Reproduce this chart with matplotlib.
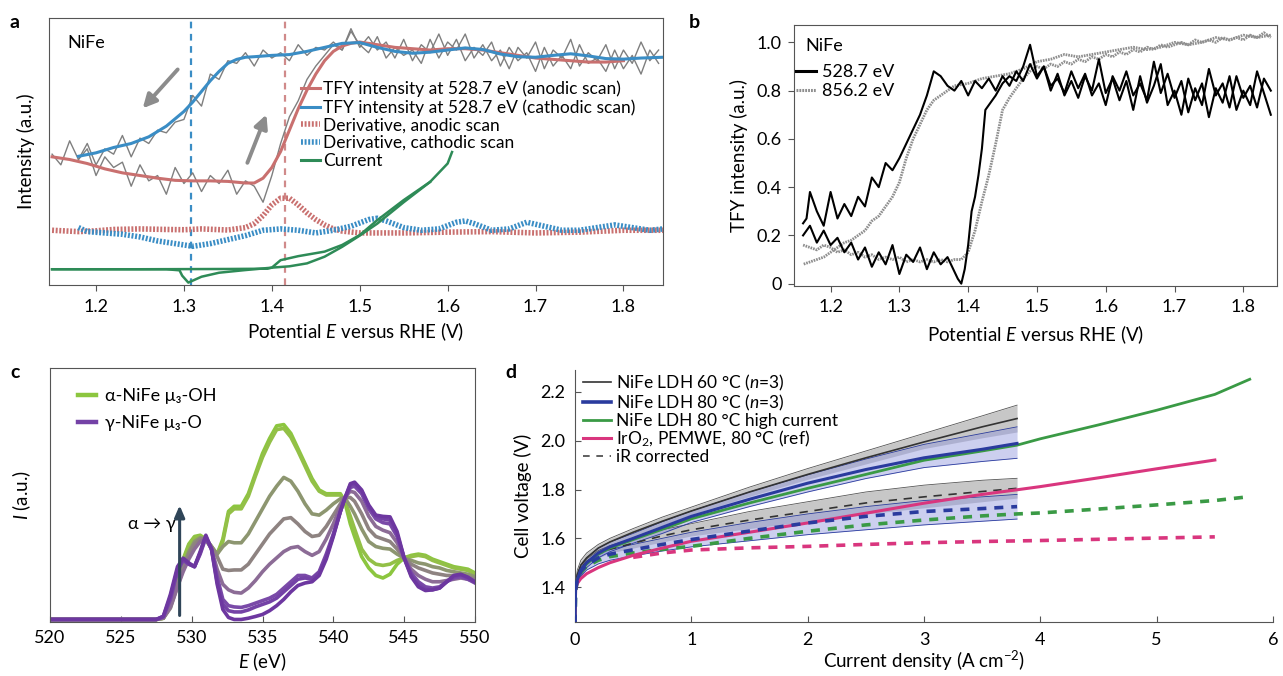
import matplotlib
matplotlib.use("Agg")
import matplotlib.pyplot as plt
from matplotlib.lines import Line2D

plt.rcParams['font.family'] = ['Lato', 'DejaVu Sans']
plt.rcParams['mathtext.fontset'] = 'custom'
plt.rcParams['mathtext.rm'] = 'Lato'
plt.rcParams['mathtext.it'] = 'Lato:italic'
plt.rcParams['mathtext.bf'] = 'Lato:bold'

# ---------------- Panel a data ----------------
a_red_x = [1.15, 1.17, 1.19, 1.21, 1.23, 1.25, 1.27, 1.29, 1.31, 1.33, 1.35, 1.37, 1.38, 1.39, 1.40, 1.41,
           1.42, 1.43, 1.44, 1.45, 1.46, 1.47, 1.48, 1.49, 1.50, 1.52, 1.54, 1.56, 1.58, 1.60, 1.62, 1.64,
           1.66, 1.68, 1.70, 1.72, 1.74, 1.76, 1.78, 1.80]
a_red_y = [48, 47, 45.5, 43.5, 42, 41, 40, 39.2, 39, 39, 38.8, 38.2, 38.2, 40, 44, 50, 58, 66, 73, 79, 84,
           87.5, 89.5, 90.5, 91, 90, 89, 88.5, 88, 88.5, 88.5, 88, 87, 86, 85, 84.5, 84, 83.5, 83.5, 84]
a_blue_x = [1.18, 1.20, 1.22, 1.24, 1.26, 1.28, 1.30, 1.31, 1.32, 1.33, 1.34, 1.35, 1.36, 1.37, 1.38, 1.40,
            1.42, 1.44, 1.46, 1.48, 1.50, 1.52, 1.54, 1.56, 1.58, 1.60, 1.62, 1.64, 1.66, 1.68, 1.70, 1.72,
            1.74, 1.76, 1.78, 1.80, 1.82, 1.845]
a_blue_y = [48.2, 49.5, 51.5, 53, 55.5, 59.5, 65, 68.5, 72.5, 76.5, 80, 83, 84.5, 85.3, 85.5, 86, 86.3,
            87.5, 89, 90.5, 90.8, 89, 87.5, 86.8, 87.2, 88, 88.8, 88.2, 86.5, 85.5, 85.3, 86, 86.6, 85.8,
            84.8, 84.6, 85, 85.3]
a_raw_an_x = [1.15, 1.16, 1.17, 1.18, 1.19, 1.20, 1.21, 1.22, 1.23, 1.24, 1.25, 1.26, 1.27, 1.28, 1.29,
              1.30, 1.31, 1.32, 1.33, 1.34, 1.35, 1.36, 1.37, 1.38, 1.39, 1.40, 1.41, 1.42, 1.43, 1.44,
              1.45, 1.46, 1.47, 1.48, 1.49, 1.50, 1.51, 1.52, 1.53, 1.54, 1.55, 1.56, 1.57, 1.58, 1.59,
              1.60, 1.61, 1.62, 1.63, 1.64, 1.65, 1.66, 1.67, 1.68, 1.69, 1.70, 1.71, 1.72, 1.73, 1.74,
              1.75, 1.76, 1.77, 1.78, 1.79, 1.80, 1.81, 1.82, 1.83, 1.84]
a_raw_an_y = [49, 45, 54, 47, 51, 41, 48, 44, 46, 37,
              45, 39, 41, 34, 44, 38, 42, 35, 41, 38,
              43, 34, 39, 37, 31, 41, 53, 63, 69, 77,
              82, 86, 90, 88, 96, 89, 93, 88, 91, 85,
              92, 84, 90, 87, 94, 86, 92, 84, 89, 86,
              91, 82, 89, 84, 87, 80, 89, 82, 86, 81,
              90, 83, 85, 80, 88, 81, 86, 79, 88, 83]
a_raw_ca_x = [1.18, 1.19, 1.20, 1.21, 1.22, 1.23, 1.24, 1.25, 1.26, 1.27, 1.28, 1.29, 1.30, 1.31, 1.32,
              1.33, 1.34, 1.35, 1.36, 1.37, 1.38, 1.39, 1.40, 1.41, 1.42, 1.43, 1.44, 1.45, 1.46, 1.47,
              1.48, 1.49, 1.50, 1.51, 1.52, 1.53, 1.54, 1.55, 1.56, 1.57, 1.58, 1.59, 1.60, 1.61, 1.62,
              1.63, 1.64, 1.65, 1.66, 1.67, 1.68, 1.69, 1.70, 1.71, 1.72, 1.73, 1.74, 1.75, 1.76, 1.77,
              1.78, 1.79, 1.80, 1.81, 1.82, 1.83, 1.84]
a_raw_ca_y = [47, 53, 45, 51, 49, 56, 48, 55, 53, 58,
              57, 61, 62, 71, 67, 79, 77, 84, 83, 87,
              82, 88, 85, 87, 84, 90, 86, 89, 88, 91,
              88, 95, 90, 87, 93, 85, 89, 86, 88, 83,
              92, 85, 91, 88, 94, 85, 90, 84, 88, 81,
              89, 85, 91, 81, 88, 85, 92, 82, 87, 84,
              90, 81, 88, 83, 91, 84, 88]
a_der_an_x = [1.15, 1.18, 1.20, 1.22, 1.25, 1.28, 1.30, 1.32, 1.35, 1.37, 1.38, 1.39, 1.40, 1.41, 1.42,
              1.43, 1.44, 1.45, 1.46, 1.47, 1.48, 1.50, 1.55, 1.60, 1.65, 1.70, 1.75, 1.80, 1.845]
a_der_an_y = [20.5, 20, 20.3, 20.8, 21, 20.8, 20.7, 21, 20.6, 21.5, 23, 26, 30, 32.5, 32.5, 30, 27, 24.5,
              22.5, 21, 20.2, 19.5, 19.5, 19.8, 20, 19.5, 19.8, 20.5, 20.5]
a_der_ca_x = [1.18, 1.19, 1.21, 1.23, 1.25, 1.27, 1.29, 1.31, 1.33, 1.35, 1.37, 1.39, 1.41, 1.43, 1.45,
              1.47, 1.49, 1.51, 1.52, 1.53, 1.55, 1.57, 1.59, 1.61, 1.62, 1.63, 1.65, 1.67, 1.69, 1.71,
              1.73, 1.75, 1.77, 1.79, 1.81, 1.83, 1.845]
a_der_ca_y = [21.5, 20, 19.5, 19, 18, 16.5, 15.5, 14.5, 15.5, 17, 18.5, 20.5, 21, 20.5, 19.5, 20.5, 22,
              24.5, 25, 24, 21.5, 20.5, 21, 23.5, 24, 23, 20.5, 21, 23.5, 22, 20.5, 20.5, 21.5, 22.5, 21.5,
              20.5, 21]
a_cur_an_x = [1.15, 1.25, 1.35, 1.395, 1.40, 1.41, 1.43, 1.46, 1.48, 1.50, 1.52, 1.55, 1.58, 1.60, 1.605]
a_cur_an_y = [5.9, 5.9, 6.0, 6.1, 6.5, 9.3, 10.8, 12.5, 15, 18.7, 24.3, 31.8, 38.6, 45.5, 49.8]
a_cur_ca_x = [1.58, 1.55, 1.52, 1.50, 1.48, 1.46, 1.44, 1.42, 1.40, 1.37, 1.34, 1.32, 1.305, 1.298,
              1.295, 1.28, 1.15]
a_cur_ca_y = [38.6, 31, 23, 18.5, 14.3, 10.6, 8.1, 7, 6.5, 5.6, 4.6, 3.1, 0.9, 3.5, 5.5, 5.9, 5.9]
a_vlines = [1.308, 1.415]
a_labels = ['TFY intensity at 528.7 eV (anodic scan)', 'TFY intensity at 528.7 eV (cathodic scan)',
            'Derivative, anodic scan', 'Derivative, cathodic scan', 'Current']
a_xticks = [1.2, 1.3, 1.4, 1.5, 1.6, 1.7, 1.8]

# ---------------- Panel b data ----------------
b_k_an_x = [1.16, 1.17, 1.18, 1.19, 1.20, 1.21, 1.22, 1.23, 1.24, 1.25, 1.26, 1.27, 1.28, 1.29, 1.30,
            1.31, 1.32, 1.33, 1.34, 1.35, 1.36, 1.37, 1.38, 1.385, 1.39, 1.395, 1.40, 1.405, 1.41, 1.415,
            1.42, 1.425, 1.43, 1.44, 1.45, 1.46, 1.47, 1.48, 1.49, 1.50, 1.51, 1.52, 1.53, 1.54, 1.55,
            1.56, 1.57, 1.58, 1.59, 1.60, 1.61, 1.62, 1.63, 1.64, 1.65, 1.66, 1.67, 1.68, 1.69, 1.70,
            1.71, 1.72, 1.73, 1.74, 1.75, 1.76, 1.77, 1.78, 1.79, 1.80, 1.81, 1.82, 1.83, 1.84]
b_k_an_y = [0.20, 0.24, 0.17, 0.22, 0.16, 0.19, 0.13, 0.17, 0.10, 0.15, 0.07, 0.13, 0.08, 0.16, 0.04,
            0.12, 0.09, 0.15, 0.06, 0.13, 0.08, 0.11, 0.05, 0.02, 0.00, 0.06, 0.16, 0.30, 0.36, 0.45,
            0.56, 0.72, 0.74, 0.78, 0.83, 0.86, 0.84, 0.90, 0.99, 0.86, 0.90, 0.80, 0.87, 0.78, 0.84,
            0.77, 0.86, 0.80, 0.93, 0.79, 0.85, 0.76, 0.84, 0.72, 0.86, 0.75, 0.82, 0.91, 0.74, 0.80,
            0.70, 0.85, 0.76, 0.83, 0.69, 0.81, 0.75, 0.86, 0.72, 0.80, 0.74, 0.88, 0.79, 0.70]
b_k_ca_x = [1.84, 1.83, 1.82, 1.81, 1.80, 1.79, 1.78, 1.77, 1.76, 1.75, 1.74, 1.73, 1.72, 1.71, 1.70,
            1.69, 1.68, 1.67, 1.66, 1.65, 1.64, 1.63, 1.62, 1.61, 1.60, 1.59, 1.58, 1.57, 1.56, 1.55,
            1.54, 1.53, 1.52, 1.51, 1.50, 1.49, 1.48, 1.47, 1.46, 1.45, 1.44, 1.43, 1.42, 1.41, 1.40,
            1.39, 1.38, 1.37, 1.36, 1.35, 1.34, 1.33, 1.32, 1.31, 1.30, 1.29, 1.28, 1.27, 1.26, 1.25,
            1.24, 1.23, 1.22, 1.21, 1.20, 1.19, 1.18, 1.17, 1.165, 1.16]
b_k_ca_y = [0.80, 0.85, 0.73, 0.82, 0.77, 0.86, 0.73, 0.83, 0.78, 0.89, 0.74, 0.81, 0.71, 0.84, 0.77,
            0.87, 0.79, 0.92, 0.76, 0.83, 0.78, 0.88, 0.80, 0.86, 0.74, 0.83, 0.78, 0.87, 0.81, 0.88,
            0.79, 0.85, 0.82, 0.90, 0.85, 0.91, 0.84, 0.88, 0.82, 0.86, 0.80, 0.85, 0.81, 0.84, 0.78,
            0.84, 0.80, 0.82, 0.86, 0.88, 0.78, 0.70, 0.64, 0.58, 0.52, 0.47, 0.50, 0.40, 0.44, 0.32,
            0.36, 0.28, 0.33, 0.27, 0.38, 0.24, 0.30, 0.38, 0.27, 0.25]
b_g_an_x = [1.16, 1.17, 1.18, 1.19, 1.20, 1.21, 1.22, 1.23, 1.24, 1.25, 1.26, 1.27, 1.28, 1.29, 1.30,
            1.31, 1.32, 1.33, 1.34, 1.35, 1.36, 1.37, 1.38, 1.39, 1.40, 1.41, 1.42, 1.43, 1.44, 1.45,
            1.46, 1.47, 1.48, 1.49, 1.50, 1.51, 1.52, 1.53, 1.54, 1.55, 1.56, 1.57, 1.58, 1.59, 1.60,
            1.61, 1.62, 1.63, 1.64, 1.65, 1.66, 1.67, 1.68, 1.69, 1.70, 1.71, 1.72, 1.73, 1.74, 1.75,
            1.76, 1.77, 1.78, 1.79, 1.80, 1.81, 1.82, 1.83, 1.84]
b_g_an_y = [0.16, 0.15, 0.14, 0.16, 0.15, 0.13, 0.14, 0.12, 0.13, 0.11, 0.12, 0.10, 0.11, 0.10, 0.11,
            0.09, 0.10, 0.09, 0.10, 0.09, 0.10, 0.09, 0.10, 0.10, 0.13, 0.22, 0.34, 0.45, 0.58, 0.72,
            0.77, 0.81, 0.85, 0.88, 0.90, 0.89, 0.91, 0.90, 0.92, 0.91, 0.93, 0.92, 0.94, 0.93, 0.95,
            0.94, 0.96, 0.95, 0.97, 0.96, 0.98, 0.97, 0.99, 0.98, 0.99, 1.00, 0.99, 1.01, 1.00, 1.01,
            1.00, 1.02, 1.01, 1.02, 1.01, 1.03, 1.02, 1.04, 1.02]
b_g_ca_x = [1.84, 1.82, 1.80, 1.78, 1.76, 1.74, 1.72, 1.70, 1.68, 1.66, 1.64, 1.62, 1.60, 1.58, 1.56,
            1.54, 1.52, 1.50, 1.48, 1.46, 1.44, 1.42, 1.40, 1.38, 1.37, 1.36, 1.35, 1.34, 1.33, 1.32,
            1.31, 1.30, 1.29, 1.28, 1.27, 1.26, 1.25, 1.24, 1.23, 1.22, 1.21, 1.20, 1.19, 1.18, 1.17, 1.16]
b_g_ca_y = [1.03, 1.02, 1.03, 1.01, 1.02, 1.00, 0.99, 1.00, 0.98, 0.97, 0.98, 0.97, 0.96, 0.95, 0.94,
            0.95, 0.93, 0.92, 0.89, 0.87, 0.86, 0.85, 0.83, 0.82, 0.80, 0.78, 0.76, 0.72, 0.66, 0.60,
            0.52, 0.42, 0.36, 0.32, 0.28, 0.26, 0.22, 0.20, 0.18, 0.17, 0.15, 0.13, 0.11, 0.10, 0.09, 0.08]
b_labels = ['528.7 eV', '856.2 eV']
b_xticks = [1.2, 1.3, 1.4, 1.5, 1.6, 1.7, 1.8]
b_yticks = [0, 0.2, 0.4, 0.6, 0.8, 1.0]
b_yticklabels = ['0', '0.2', '0.4', '0.6', '0.8', '1.0']

# ---------------- Panel c data ----------------
c_E = [520, 527.5, 528, 528.5, 529, 529.4, 529.8, 530.2, 530.6, 531.0, 531.4, 531.8, 532.2, 532.6, 533.0,
       533.5, 534.0, 534.5, 535.0, 535.5, 536.0, 536.5, 537.0, 537.5, 538.0, 538.5, 539.0, 539.5, 540.0,
       540.5, 540.8, 541.2, 541.5, 542.0, 542.5, 543.0, 543.5, 544.0, 544.5, 545.0, 545.5, 546.0, 546.5,
       547.0, 547.5, 548.0, 548.5, 549.0, 549.5, 550.0]
c_green1 = [0, 0, 0.5, 7, 17, 24, 30, 33, 33.5, 32, 29, 26, 32, 43, 45, 45, 50, 58, 66, 72, 77, 77.5, 74,
            68, 62, 56, 51.5, 50, 50, 50, 47, 38, 33, 25, 20.5, 17.5, 16.5, 18, 22, 24.5, 25.5, 26, 25.5,
            24, 23, 22, 21, 20.5, 20, 18.5]
c_green2 = [0, 0, 0.5, 6, 16, 23, 29.5, 32.5, 33, 31.5, 28.5, 26, 31, 42, 44, 44, 49, 57, 64.5, 70.5,
            75.5, 76, 72.5, 67, 61, 55, 51, 49.5, 49.5, 49.5, 47.5, 41, 36, 28, 24, 22, 21.5, 22, 23.5,
            24.5, 25, 25.5, 25, 23.5, 22.5, 21.5, 20.5, 20, 19.5, 18]
c_olive = [0, 0, 0.5, 5, 14, 21, 27, 31, 32.5, 32, 29, 26, 29, 31, 30.5, 30.5, 34, 39, 44, 49, 53, 56.5,
           55, 51, 46, 42, 41.5, 43.5, 46, 48, 48.5, 45, 42, 36, 31, 29, 28.3, 28, 26, 24.4, 23.5, 22.5,
           22, 21, 20.5, 19.5, 19, 18.5, 18, 17]
c_gray = [0, 0, 0.5, 4.5, 13, 20, 26, 30, 32, 32, 29, 25, 20, 19.5, 19.7, 19.7, 22, 26, 30, 34, 37, 40,
          40.5, 38, 35, 33, 33.5, 37, 41.5, 46, 48.5, 48.5, 47, 42, 36, 33, 32, 31, 28, 24.4, 22, 20.5,
          19.5, 18.5, 18, 17.5, 17.5, 17.5, 17, 16]
c_mauve = [0, 0, 0.7, 5, 13, 19, 24, 28, 31, 32, 28, 20, 14, 11.8, 10.8, 10.5, 12.5, 15.5, 19, 22, 24.5,
           27, 28.5, 29, 27, 25.5, 27, 32, 38, 45, 48.5, 51, 50.5, 47, 41, 37, 35.5, 34.5, 30.5, 24.4,
           20, 17.5, 16, 15, 15, 15.5, 16, 16.5, 16, 15]
c_purple1 = [0, 0, 1, 8, 19, 23.5, 22, 21, 26, 32.5, 28, 17, 8, 5.5, 5, 4.8, 5.5, 6.5, 7.5, 8.5, 10,
             12.5, 15, 17.5, 17.5, 16.5, 19, 26, 34, 43, 48, 52.5, 53, 50, 44, 40, 38.5, 38, 33, 24.4,
             18.5, 15, 13, 12.5, 13, 15, 16.5, 17, 16, 14.5]
c_purple2 = [0, 0, 1.2, 9, 20, 24, 22, 21, 26.5, 33, 28, 15, 6, 3.5, 3, 3, 3.8, 5, 6, 7, 8.5, 11, 13.5,
             16, 16.5, 16, 18.5, 25, 33.5, 43, 48, 53.5, 54, 51, 45, 41, 40, 39.5, 34, 24.4, 17.5, 14,
             12, 11.8, 12.5, 15, 17, 17.8, 16.5, 14.8]
c_purple3 = [0, 0, 1.3, 10, 21, 24.4, 22.5, 21, 27, 33.5, 28, 14, 4, 0.8, 0, 0, 0.5, 1.2, 2, 3.5, 5.5,
             8, 11, 13.5, 14.5, 15, 17.5, 24, 33, 43, 48, 54, 54.6, 51.5, 45.5, 41.5, 41, 40.8, 35, 24.4,
             17, 13, 11.5, 11.8, 12.5, 15, 17.5, 18, 16.8, 15]
c_labels = ['α-NiFe μ₃-OH', 'γ-NiFe μ₃-O']
c_xticks = [520, 525, 530, 535, 540, 545, 550]

# ---------------- Panel d data ----------------
d_j = [0, 0.005, 0.02, 0.05, 0.1, 0.2, 0.3, 0.5, 0.75, 1.0, 1.5, 2.0, 2.5, 3.0, 3.5, 3.8]
d_60 = [1.25, 1.40, 1.45, 1.49, 1.52, 1.56, 1.585, 1.625, 1.67, 1.712, 1.79, 1.862, 1.93, 1.995, 2.057, 2.091]
d_60_hi = [1.25, 1.42, 1.47, 1.51, 1.54, 1.575, 1.60, 1.64, 1.687, 1.728, 1.81, 1.886, 1.958, 2.03, 2.102, 2.146]
d_60_lo = [1.25, 1.38, 1.43, 1.47, 1.50, 1.545, 1.57, 1.61, 1.653, 1.698, 1.772, 1.842, 1.905, 1.968, 2.012, 2.036]
d_80 = [1.25, 1.39, 1.43, 1.47, 1.50, 1.54, 1.565, 1.60, 1.645, 1.69, 1.76, 1.826, 1.882, 1.93, 1.965, 1.989]
d_80_hi = [1.25, 1.41, 1.45, 1.49, 1.52, 1.56, 1.585, 1.62, 1.668, 1.712, 1.79, 1.86, 1.925, 1.985, 2.03, 2.057]
d_80_lo = [1.25, 1.37, 1.41, 1.45, 1.48, 1.52, 1.545, 1.58, 1.62, 1.665, 1.73, 1.79, 1.845, 1.89, 1.915, 1.928]
d_60_ir = [1.25, 1.40, 1.44, 1.48, 1.505, 1.535, 1.555, 1.58, 1.61, 1.635, 1.675, 1.71, 1.745, 1.77, 1.792, 1.805]
d_60_ir_hi = [1.25, 1.41, 1.455, 1.49, 1.515, 1.55, 1.57, 1.60, 1.635, 1.66, 1.71, 1.75, 1.79, 1.818, 1.838, 1.846]
d_60_ir_lo = [1.25, 1.38, 1.425, 1.465, 1.49, 1.52, 1.54, 1.56, 1.585, 1.61, 1.64, 1.67, 1.70, 1.725, 1.75, 1.765]
d_80_ir = [1.25, 1.39, 1.43, 1.465, 1.49, 1.52, 1.535, 1.553, 1.575, 1.595, 1.63, 1.663, 1.69, 1.71, 1.722, 1.73]
d_80_ir_hi = [1.25, 1.40, 1.445, 1.48, 1.505, 1.535, 1.555, 1.575, 1.60, 1.625, 1.665, 1.70, 1.73, 1.755, 1.77, 1.78]
d_80_ir_lo = [1.25, 1.37, 1.41, 1.445, 1.47, 1.495, 1.51, 1.528, 1.548, 1.565, 1.59, 1.615, 1.635, 1.655, 1.67, 1.679]
d_hc_j = [0, 0.005, 0.02, 0.05, 0.1, 0.2, 0.3, 0.5, 0.75, 1.0, 1.5, 2.0, 2.5, 3.0, 3.5, 3.8, 4.0, 4.5, 5.0, 5.5, 5.8]
d_hc = [1.25, 1.39, 1.43, 1.465, 1.495, 1.535, 1.56, 1.595, 1.637, 1.68, 1.745, 1.805, 1.862, 1.92, 1.958,
        1.982, 2.008, 2.065, 2.125, 2.19, 2.252]
d_hc_ir = [1.25, 1.385, 1.425, 1.46, 1.485, 1.51, 1.525, 1.54, 1.555, 1.567, 1.60, 1.629, 1.655, 1.675,
           1.692, 1.70, 1.704, 1.72, 1.737, 1.755, 1.771]
d_ir_j = [0, 0.005, 0.02, 0.05, 0.1, 0.2, 0.3, 0.5, 0.75, 1.0, 1.5, 2.0, 2.5, 3.0, 3.5, 3.8, 4.0, 4.5, 5.0, 5.5]
d_iro2 = [1.25, 1.39, 1.415, 1.435, 1.455, 1.48, 1.50, 1.53, 1.56, 1.588, 1.625, 1.663, 1.703, 1.744, 1.78,
          1.799, 1.812, 1.848, 1.885, 1.921]
d_iro2_ir_j = [0.5, 0.75, 1.0, 1.5, 2.0, 2.5, 3.0, 3.5, 4.0, 4.5, 5.0, 5.5]
d_iro2_ir = [1.522, 1.54, 1.552, 1.561, 1.567, 1.575, 1.582, 1.587, 1.591, 1.596, 1.601, 1.606]
d_labels = ['NiFe LDH 60 °C ($n$=3)', 'NiFe LDH 80 °C ($n$=3)', 'NiFe LDH 80 °C high current',
            'IrO$_2$, PEMWE, 80 °C (ref)', 'iR corrected']
d_xticks = [0, 1, 2, 3, 4, 5, 6]
d_yticks = [1.4, 1.6, 1.8, 2.0, 2.2]

# ---------------- Figure ----------------
W, H = 1283, 676
fig = plt.figure(figsize=(W / 100, H / 100), dpi=100)

def box(l, t, r, b):
    return [l / W, 1 - b / H, (r - l) / W, (b - t) / H]

SPC = '#555555'
TFS = 13
LFS = 13.5

RED = '#c9706f'
BLUE = '#3a8dc5'
GREEN = '#2e8b57'

# ---- panel a ----
ax = fig.add_axes(box(49, 18, 663, 285))
ax.plot(a_raw_an_x, a_raw_an_y, color='#7f7f7f', lw=1.0, zorder=2)
ax.plot(a_raw_ca_x, a_raw_ca_y, color='#7f7f7f', lw=1.0, zorder=2)
ax.plot(a_red_x, a_red_y, color=RED, lw=2.2, zorder=3)
ax.plot(a_blue_x, a_blue_y, color=BLUE, lw=2.2, zorder=3)
ax.plot(a_der_an_x, a_der_an_y, color=RED, lw=4, dashes=(0.35, 0.3), zorder=3)
ax.plot(a_der_ca_x, a_der_ca_y, color=BLUE, lw=4, dashes=(0.35, 0.3), zorder=3)
ax.plot(a_cur_an_x, a_cur_an_y, color=GREEN, lw=1.8, zorder=3)
ax.plot(a_cur_ca_x, a_cur_ca_y, color=GREEN, lw=1.8, zorder=3)
ax.axvline(a_vlines[0], color=BLUE, lw=1.6, ls=(0, (3, 2.5)), zorder=1)
ax.axvline(a_vlines[1], color='#d08a8a', lw=1.6, ls=(0, (3, 2.5)), zorder=1)
ax.annotate('', xy=(1.251, 65.4), xytext=(1.295, 81.5),
            arrowprops=dict(arrowstyle='-|>,head_length=0.8,head_width=0.4', color='#8c8c8c', lw=2.8))
ax.annotate('', xy=(1.395, 64.8), xytext=(1.371, 44.8),
            arrowprops=dict(arrowstyle='-|>,head_length=0.8,head_width=0.4', color='#8c8c8c', lw=2.8))
ax.text(1.167, 90.5, 'NiFe', fontsize=13, va='center', ha='left')
hs = [Line2D([], [], color=RED, lw=2.2), Line2D([], [], color=BLUE, lw=2.2),
      Line2D([], [], color=RED, lw=4, dashes=(0.35, 0.3)), Line2D([], [], color=BLUE, lw=4, dashes=(0.35, 0.3)),
      Line2D([], [], color=GREEN, lw=2.2)]
ax.legend(hs, a_labels, loc='upper left', bbox_to_anchor=(0.41, 0.765), frameon=False, fontsize=12.5,
          handlelength=1.1, handletextpad=0.2, labelspacing=0.1, borderaxespad=0, borderpad=0)
ax.set_xlim(1.1465, 1.845)
ax.set_ylim(0, 100)
ax.set_xticks(a_xticks)
ax.set_xticklabels([f'{v:.1f}' for v in a_xticks])
ax.set_yticks([])
ax.tick_params(axis='x', direction='out', length=4, color=SPC, labelsize=TFS, pad=6)
for s in ax.spines.values():
    s.set_color(SPC)
ax.set_xlabel('Potential $E$ versus RHE (V)', fontsize=LFS, labelpad=4)
ax.set_ylabel('Intensity (a.u.)', fontsize=LFS, labelpad=10)
fig.text(10 / W, 1 - 22 / H, 'a', fontsize=14, fontweight='bold', va='center')

# ---- panel b ----
ax = fig.add_axes(box(794, 25, 1277, 286))
GR = '#8e8e8e'
ax.plot(b_g_an_x, b_g_an_y, color=GR, lw=2.0, dashes=(0.6, 0.35), zorder=2)
ax.plot(b_g_ca_x, b_g_ca_y, color=GR, lw=2.0, dashes=(0.6, 0.35), zorder=2)
ax.plot(b_k_an_x, b_k_an_y, color='black', lw=1.5, zorder=3)
ax.plot(b_k_ca_x, b_k_ca_y, color='black', lw=1.5, zorder=3)
ax.text(1.163, 0.985, 'NiFe', fontsize=13, va='center', ha='left')
hs = [Line2D([], [], color='black', lw=2.2), Line2D([], [], color=GR, lw=2.2, dashes=(0.6, 0.35))]
ax.legend(hs, b_labels, loc='upper left', bbox_to_anchor=(0.005, 0.85), frameon=False, fontsize=13,
          handlelength=1.1, handletextpad=0.3, labelspacing=0.18, borderaxespad=0, borderpad=0)
ax.set_xlim(1.1468, 1.849)
ax.set_ylim(-0.0097, 1.072)
ax.set_xticks(b_xticks)
ax.set_xticklabels([f'{v:.1f}' for v in b_xticks])
ax.set_yticks(b_yticks)
ax.set_yticklabels(b_yticklabels)
ax.tick_params(direction='out', length=4, color=SPC, labelsize=TFS, pad=5)
for s in ax.spines.values():
    s.set_color(SPC)
ax.set_xlabel('Potential $E$ versus RHE (V)', fontsize=LFS, labelpad=6)
ax.set_ylabel('TFY intensity (a.u.)', fontsize=LFS, labelpad=6)
fig.text(689 / W, 1 - 22 / H, 'b', fontsize=14, fontweight='bold', va='center')

# ---- panel c ----
ax = fig.add_axes(box(50, 368, 475, 622))
c_series = [c_green1, c_green2, c_olive, c_gray, c_mauve, c_purple1, c_purple2, c_purple3]
c_colors = ['#8cc63f', '#93c047', '#8d9670', '#8e8381', '#8c6c96', '#7a4aa8', '#7442a6', '#6d37a0']
for ys, col in zip(c_series, c_colors):
    ax.plot(c_E, ys, color=col, lw=2.6, solid_joinstyle='round', zorder=2)
ax.annotate('', xy=(529.15, 46.5), xytext=(529.15, 0.5),
            arrowprops=dict(arrowstyle='-|>,head_length=0.7,head_width=0.3', color='#2f4558', lw=2.2))
ax.text(528.9, 38, 'α → γ', fontsize=13, ha='right', va='center')
hs = [Line2D([], [], color='#8cc63f', lw=3.2), Line2D([], [], color='#7442a6', lw=3.2)]
ax.legend(hs, c_labels, loc='upper left', bbox_to_anchor=(0.065, 0.92), frameon=False, fontsize=13,
          handlelength=1.0, handletextpad=0.5, labelspacing=0.6, borderaxespad=0, borderpad=0)
ax.set_xlim(520, 550)
ax.set_ylim(-1, 100)
ax.set_xticks(c_xticks)
ax.set_yticks([])
ax.tick_params(axis='x', direction='in', length=4, color=SPC, labelsize=TFS, pad=6)
for s in ax.spines.values():
    s.set_color(SPC)
ax.set_xlabel('$E$ (eV)', fontsize=LFS, labelpad=3)
ax.set_ylabel('$I$ (a.u.)', fontsize=LFS, labelpad=12)
fig.text(10 / W, 1 - 372 / H, 'c', fontsize=14, fontweight='bold', va='center')

# ---- panel d ----
ax = fig.add_axes(box(575, 370, 1273, 622))
BL = '#2a3b9e'
BLF = '#8f95dc'
PK = '#d9367e'
GN = '#3a9a45'
ax.fill_between(d_j, d_60_lo, d_60_hi, color='#9a9a9a', alpha=0.55, lw=0, zorder=1)
ax.fill_between(d_j, d_60_ir_lo, d_60_ir_hi, color='#9a9a9a', alpha=0.55, lw=0, zorder=1)
ax.fill_between(d_j, d_80_lo, d_80_hi, color=BLF, alpha=0.45, lw=0, zorder=1)
ax.fill_between(d_j, d_80_ir_lo, d_80_ir_hi, color=BLF, alpha=0.45, lw=0, zorder=1)
for ys in (d_60_hi, d_60_ir_hi):
    ax.plot(d_j, ys, color='#555555', lw=0.6, zorder=2)
for ys in (d_80_hi, d_80_lo, d_80_ir_hi, d_80_ir_lo):
    ax.plot(d_j, ys, color=BL, lw=0.6, zorder=2)
ax.plot(d_j, d_60, color='#333333', lw=1.2, zorder=3)
ax.plot(d_j, d_60_ir, color='#333333', lw=1.2, dashes=(5, 4), zorder=3)
ax.plot(d_j, d_80, color=BL, lw=2.2, zorder=4)
ax.plot(d_j, d_80_ir, color=BL, lw=2.6, dashes=(2.5, 2.2), zorder=4)
ax.plot(d_hc_j, d_hc, color=GN, lw=2.0, zorder=3)
ax.plot(d_hc_j, d_hc_ir, color=GN, lw=2.6, dashes=(2.5, 2.2), zorder=3)
ax.plot(d_ir_j, d_iro2, color=PK, lw=2.2, zorder=3)
ax.plot(d_iro2_ir_j, d_iro2_ir, color=PK, lw=2.6, dashes=(2.5, 2.2), zorder=3)
hs = [Line2D([], [], color='#333333', lw=1.2), Line2D([], [], color=BL, lw=2.6),
      Line2D([], [], color=GN, lw=2.0), Line2D([], [], color=PK, lw=2.2),
      Line2D([], [], color='#444444', lw=1.2, dashes=(4, 4))]
ax.legend(hs, d_labels, loc='upper left', bbox_to_anchor=(0.012, 0.99), frameon=False, fontsize=12.5,
          handlelength=1.6, handletextpad=0.3, labelspacing=0.0, borderaxespad=0, borderpad=0)
ax.set_xlim(0, 6)
ax.set_ylim(1.257, 2.29)
ax.set_xticks(d_xticks)
ax.set_yticks(d_yticks)
ax.set_yticklabels([f'{v:.1f}' for v in d_yticks])
ax.tick_params(direction='in', length=4, color=SPC, labelsize=TFS, pad=7)
ax.spines['top'].set_visible(False)
ax.spines['right'].set_visible(False)
ax.spines['left'].set_color(SPC)
ax.spines['bottom'].set_color(SPC)
ax.set_xlabel('Current density (A cm$^{-2}$)', fontsize=LFS, labelpad=1)
ax.set_ylabel('Cell voltage (V)', fontsize=LFS, labelpad=6)
fig.text(505 / W, 1 - 372 / H, 'd', fontsize=14, fontweight='bold', va='center')

fig.savefig('out.png', dpi=100)
